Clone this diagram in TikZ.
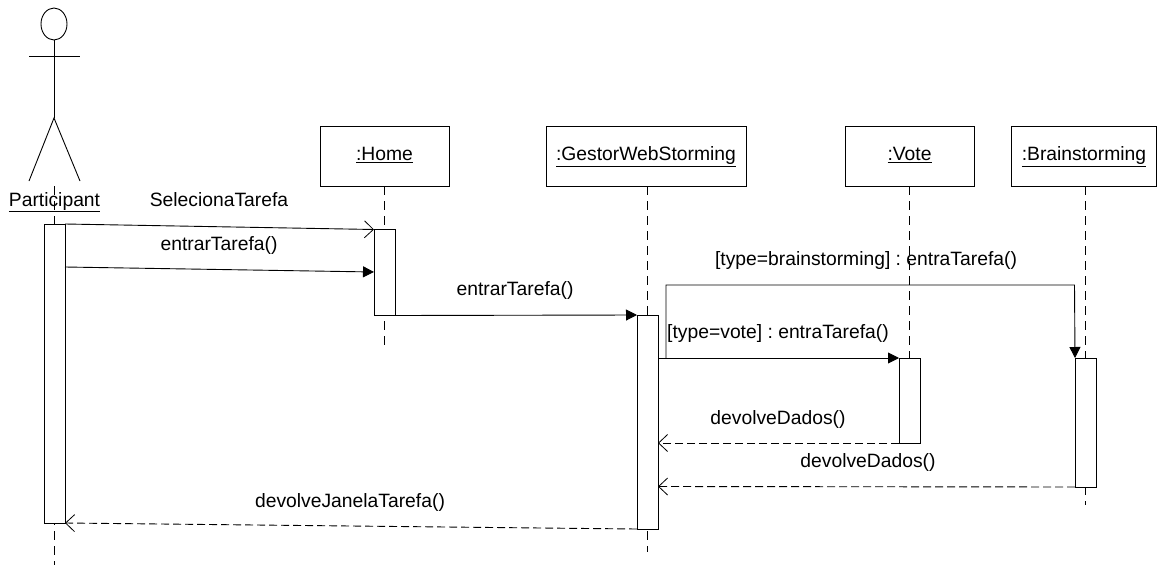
\documentclass[tikz,border=0pt]{standalone}
\usepackage{fontspec}
\setmainfont{Liberation Sans}
\usetikzlibrary{arrows.meta}
\frenchspacing
\tikzset{
  objbox/.style={draw=black,fill=white,line width=0.9pt,minimum height=60pt,inner sep=0pt,outer sep=0pt,text height=14pt,text depth=5pt,font=\fontsize{19.3}{21}\selectfont},
  activ/.style={draw=black,fill=white,line width=0.9pt,minimum width=21pt,inner sep=0pt,outer sep=0pt,anchor=north},
  life/.style={line width=0.8pt,dash pattern=on 9pt off 6pt},
  msg/.style={line width=0.9pt,-{Triangle[length=11pt,width=11pt]}},
  opn/.style={line width=0.9pt,-{Straight Barb[length=9pt,width=17pt,line width=0.8pt]}},
  ret/.style={line width=0.9pt,dash pattern=on 8pt off 4pt,-{Straight Barb[length=9pt,width=17pt,line width=0.8pt]}},
  lbl/.style={anchor=base,inner sep=0pt,font=\fontsize{19.3}{21}\selectfont\frenchspacing},
  actor/.style={line width=0.9pt}
}
\begin{document}
\begin{tikzpicture}[x=1pt,y=-1pt]
\useasboundingbox (0,0) rectangle (1157,565);
% object boxes
\node[objbox,minimum width=129pt] (home) at (384.5,156) {\underline{:Home}};
\node[objbox,minimum width=200pt] (gestor) at (646,156) {\underline{:GestorWebStorming}};
\node[objbox,minimum width=129pt] (vote) at (909.5,156) {\underline{:Vote}};
\node[objbox,minimum width=145pt] (brain) at (1084,156) {\underline{:Brainstorming}};
% lifeline ends
\coordinate (pstart) at (54,186);
\coordinate (pend) at (54,565);
\coordinate (homeend) at (384.5,350);
\coordinate (gestorend) at (647,552);
\coordinate (voteend) at (909.5,358);
\coordinate (brainend) at (1085,505);
\draw[life] (pstart) -- (pend);
\draw[life] (home.south) -- (homeend);
\draw[life] (gestor.south -| gestorend) -- (gestorend);
\draw[life] (vote.south) -- (voteend);
\draw[life] (brain.south -| brainend) -- (brainend);
% actor
\draw[actor] (54,24) ellipse [x radius=13pt,y radius=16pt];
\coordinate (neck) at (54,40);
\coordinate (hip) at (54,118);
\coordinate (larm) at (29,56);
\coordinate (rarm) at (80,56);
\coordinate (lfoot) at (29,181);
\coordinate (rfoot) at (80,181);
\draw[actor] (neck) -- (hip);
\draw[actor] (larm) -- (rarm);
\draw[actor] (lfoot) -- (hip) -- (rfoot);
\node[lbl] (part) at (54.5,206) {\underline{Participant}};
% activations
\node[activ,minimum height=299pt] (pa) at (54.5,224) {};
\node[activ,minimum height=86pt] (ha) at (384.5,229.5) {};
\node[activ,minimum height=214pt] (ga) at (647.5,315) {};
\node[activ,minimum height=85pt] (va) at (909.5,358) {};
\node[activ,minimum height=129pt] (ba) at (1085.5,358) {};
% message anchors
\coordinate (m2s) at (65,267);
\coordinate (m2e) at (374,272);
\coordinate (elbowv) at (666,358);
\coordinate (elbowa) at (666,285);
\coordinate (elbowb) at (1074.5,285);
\coordinate (v1) at (899,443);
\coordinate (g1) at (658,443);
\coordinate (b1) at (1075,487);
\coordinate (g2) at (658,486.5);
% messages
\draw[opn] (pa.north east) -- (ha.north west);
\draw[msg] (m2s) -- (m2e);
\draw[msg] (ha.south east) -- (ga.north west);
\draw[msg] (ga.east |- va.north west) -- (va.north west);
\draw[msg] (elbowv) -- (elbowa) -- (elbowb) -- (ba.north west);
\draw[ret] (v1) -- (g1);
\draw[ret] (b1) -- (g2);
\draw[ret] (ga.south west) -- (pa.south east);
% labels
\node[lbl] (l1) at (219,206) {SelecionaTarefa};
\node[lbl] (l2) at (219,250) {entrarTarefa()};
\node[lbl] (l3) at (515,295) {entrarTarefa()};
\node[lbl] (l4) at (866,265) {[type=brainstorming] : entraTarefa()};
\node[lbl] (l5) at (778,338) {[type=vote] : entraTarefa()};
\node[lbl] (l6) at (778,424) {devolveDados()};
\node[lbl] (l7) at (868,467) {devolveDados()};
\node[lbl] (l8) at (350,507) {devolveJanelaTarefa()};
\end{tikzpicture}
\end{document}
